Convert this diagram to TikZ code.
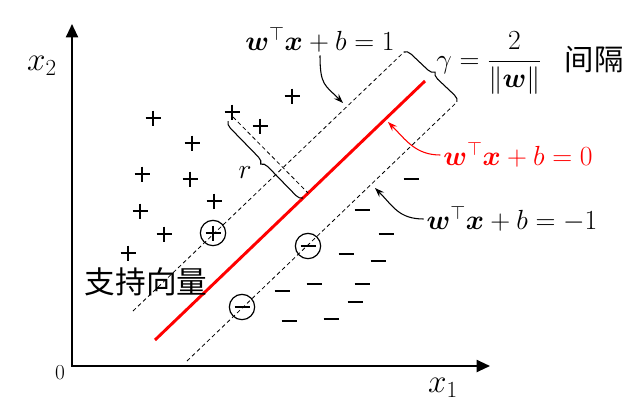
\documentclass[tikz,border=0pt]{standalone}
\usepackage{amsmath,amssymb}
\usepackage{fontspec}
\newfontfamily\cjk{Noto Sans CJK SC}
\usetikzlibrary{arrows.meta,decorations.pathreplacing,calc}

\begin{document}
\begin{tikzpicture}[x=0.75pt,y=-0.75pt,
  axis/.style={line width=1.5pt,{Triangle[length=10pt,width=9pt]}-{Triangle[length=10pt,width=9pt]}},
  margin/.style={dash pattern=on 3pt off 2.2pt,line width=0.6pt},
  pmark/.style={line width=1.3pt},
  svec/.style={draw,circle,line width=0.9pt,minimum size=19pt,inner sep=0pt},
  note/.style={font=\fontsize{20}{24}\selectfont,inner sep=2pt},
  pointer/.style={line width=0.8pt,-{Stealth[length=7pt,width=5pt]}},
  gap/.style={decorate,decoration={brace,amplitude=5pt},line width=0.8pt}
]
  \useasboundingbox (0,0) rectangle (638,418);
  % Axes
  \coordinate (O) at (72,366);
  \coordinate (ytop) at (72,24);
  \coordinate (xend) at (490,366);
  \draw[axis] (ytop) -- (O) -- (xend);
  \node[font=\fontsize{16}{18}\selectfont] (zero) at (60,373) {0};
  \node[font=\fontsize{24}{28}\selectfont] (xone) at (443,388) {$x_1$};
  \node[font=\fontsize{24}{28}\selectfont] (xtwo) at (42,66) {$x_2$};
  % Separating hyperplane and margins
  \coordinate (h1) at (155,340);
  \coordinate (h2) at (425,81);
  \coordinate (u1) at (133,311);
  \coordinate (u2) at (404,52);
  \coordinate (l1) at (187,361);
  \coordinate (l2) at (457,102);
  \draw[margin] (u1) -- (u2);
  \draw[margin] (l1) -- (l2);
  \draw[red,line width=2.2pt] (h1) -- (h2);
  % Positive samples
  \foreach \px/\py in {153/118,232/112,292/96,260/126,192/143,142/174,190/179,
                       214/201,140/211,164/234,128/253,213/233}
    \draw[pmark] (\px-7.5,\py) -- (\px+7.5,\py) (\px,\py-7.5) -- (\px,\py+7.5);
  % Negative samples
  \foreach \px/\py in {411/179,362/210,386/234,346/254,378/261,314/284,362/284,
                       282/291,355/302,289/321,331/319,308/246,242/307}
    \draw[pmark] (\px-7.5,\py) -- (\px+7.5,\py);
  % Support vectors
  \node[svec] (sv1) at (213,233) {};
  \node[svec] (sv2) at (308,246) {};
  \node[svec] (sv3) at (242,307) {};
  \node[font=\cjk\fontsize{23}{26}\selectfont] (svlbl) at (146,282) {支持向量};
  % Distance r
  \coordinate (rtop) at (233,117);
  \coordinate (rfoot) at (308,193);
  \coordinate (rb1) at (303,198);
  \coordinate (rb2) at (228,121);
  \draw[margin] (rtop) -- (rfoot);
  \draw[gap] (rb1) -- (rb2);
  \node[font=\fontsize{20}{24}\selectfont] (rlbl) at (245,173) {$r$};
  % Margin gamma
  \draw[gap] (u2) -- (l2);
  \node[note] (gamma) at (489,63) {$\gamma=\dfrac{2}{\|\boldsymbol{w}\|}$};
  \node[font=\cjk\fontsize{22}{26}\selectfont] (gaplbl) at (594,60) {间隔};
  % Labels of the three lines
  \node[note] (lblone) at (320,40) {$\boldsymbol{w}^{\top}\boldsymbol{x}+b=1$};
  \node[note,red] (lblzero) at (518,155) {$\boldsymbol{w}^{\top}\boldsymbol{x}+b=0$};
  \node[note] (lblneg) at (512,219) {$\boldsymbol{w}^{\top}\boldsymbol{x}+b=-1$};
  \coordinate (tgone) at (343,103);
  \coordinate (tgzero) at (388,122);
  \coordinate (tgneg) at (375,188);
  \draw[pointer] (lblone.south) .. controls +(0,30) and +(-18,-18) .. (tgone);
  \draw[pointer,red] (lblzero.west) .. controls +(-25,0) and +(18,18) .. (tgzero);
  \draw[pointer] (lblneg.west) .. controls +(-25,0) and +(18,18) .. (tgneg);
\end{tikzpicture}
\end{document}
